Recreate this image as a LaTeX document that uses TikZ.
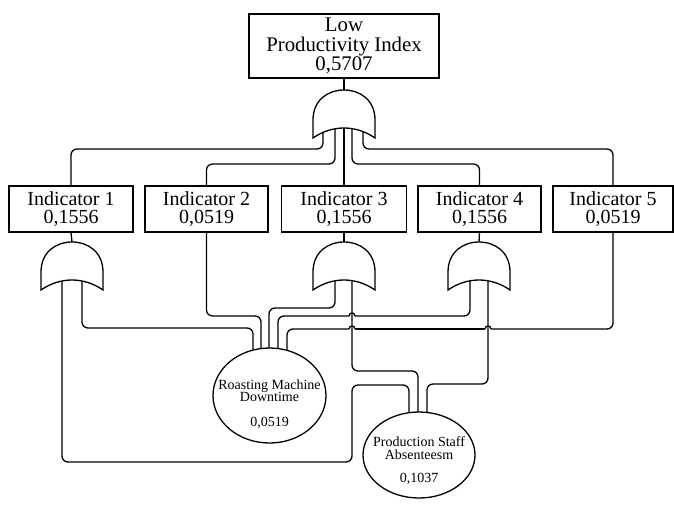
\documentclass[tikz,border=0pt]{standalone}
\usepackage{fontspec}
\setmainfont{Liberation Serif}
\usetikzlibrary{calc,backgrounds,shapes.geometric}
\tikzset{
  wire/.style={line width=1.3pt, rounded corners=6pt},
  hopline/.style={line width=1.3pt},
  box/.style={draw, line width=1.3pt, fill=white, align=center, inner sep=0pt,
    font=\fontsize{20}{18.5}\selectfont},
  bigbox/.style={box, font=\fontsize{20.8}{19.6}\selectfont},
  evt/.style={draw, ellipse, line width=1.3pt, fill=white, inner sep=0pt},
  lbl/.style={align=center, inner sep=0pt, font=\fontsize{14}{12.5}\selectfont},
  gatestyle/.style={draw, line width=1.3pt, fill=white},
  orgate/.pic={
    \draw[gatestyle] (-31,48) -- (-31,30) .. controls (-31,10) and (-16,0) .. (0,0)
      .. controls (16,0) and (31,10) .. (31,30) -- (31,48)
      .. controls (21,41) and (10,38) .. (0,38)
      .. controls (-10,38) and (-21,41) .. (-31,48) -- cycle;
    \coordinate (-top) at (0,0);
  }
}
\begin{document}
\begin{tikzpicture}[x=1pt,y=-1pt]
\useasboundingbox (0,0) rectangle (674,504);
% nodes
\node[bigbox, minimum width=190pt, minimum height=64pt] (top) at (344,46) {Low\\Productivity Index\\0,5707};
\node[box, minimum width=124pt, minimum height=46pt] (i1) at (71,209) {Indicator 1\\0,1556};
\node[box, minimum width=123pt, minimum height=46pt] (i2) at (206.5,209) {Indicator 2\\0,0519};
\node[box, minimum width=125pt, minimum height=46pt] (i3) at (344,209) {Indicator 3\\0,1556};
\node[box, minimum width=123pt, minimum height=46pt] (i4) at (479.5,209) {Indicator 4\\0,1556};
\node[box, minimum width=120pt, minimum height=46pt] (i5) at (613,209) {Indicator 5\\0,0519};
\pic (g0) at (344,90) {orgate};
\pic (g1) at (72,242) {orgate};
\pic (g3) at (344,242) {orgate};
\pic (g4) at (479,242) {orgate};
\node[evt, minimum width=113pt, minimum height=95pt] (roast) at (269.5,395.5) {};
\node[lbl] (roastlbl) at (269.5,404) {Roasting Machine\\Downtime\\[12.5pt]0,0519};
\node[evt, minimum width=112pt, minimum height=86pt] (prod) at (419,455) {};
\node[lbl] (prodlbl) at (419,461) {Production Staff\\Absenteesm\\[11pt]0,1037};
\begin{scope}[on background layer]
\fill[white] (0,0) rectangle (674,504);
% box to gate
\draw[wire] (top.south) -- (g0-top);
\draw[wire] (i1.south) -- (g1-top);
\draw[wire] (i3.south) -- (g3-top);
\draw[wire] (i4.south) -- (g4-top);
% top gate inputs
\draw[wire] ($(g0-top)+(-21,38)$) |- (i1.north |- 0,149) -- (i1.north);
\draw[wire] ($(g0-top)+(-9,38)$) |- (i2.north |- 0,164) -- (i2.north);
\draw[wire] ($(g0-top)+(0,38)$) -- (i3.north);
\draw[wire] ($(g0-top)+(8,38)$) |- (i4.north |- 0,164) -- (i4.north);
\draw[wire] ($(g0-top)+(19,38)$) |- (i5.north |- 0,149) -- (i5.north);
% lower wires
\draw[wire] ($(g1-top)+(-10,38)$) |- (352,462) |- (409,385) -- (prod.center -| 409,0);
\draw[wire] ($(g1-top)+(10,38)$) |- (253,328) -- (roast.center -| 253,0);
\draw[wire] (i2.south) |- (261,316) -- (roast.center -| 261,0);
\draw[wire] ($(g3-top)+(-9,38)$) |- (269,308) -- (roast.center -| 269,0);
\draw[wire] ($(g4-top)+(-9,38)$) |- (355,316);
\draw[hopline] (355,316) .. controls (355,312) and (349,312) .. (349,316);
\draw[wire] (349,316) -| (roast.center -| 278,0);
\draw[wire] ($(g3-top)+(8,38)$) |- (418,371) -- (prod.center -| 418,0);
\draw[wire] ($(g4-top)+(9,38)$) |- (427,384) -- (prod.center -| 427,0);
\draw[wire] (i5.south) |- (491,329);
\draw[hopline] (491,329) .. controls (491,325) and (485,325) .. (485,329);
\draw[wire] (485,329) -- (355,329);
\draw[hopline] (355,329) .. controls (355,325) and (349,325) .. (349,329);
\draw[wire] (349,329) -| (roast.center -| 287,0);
\end{scope}
\end{tikzpicture}
\end{document}
